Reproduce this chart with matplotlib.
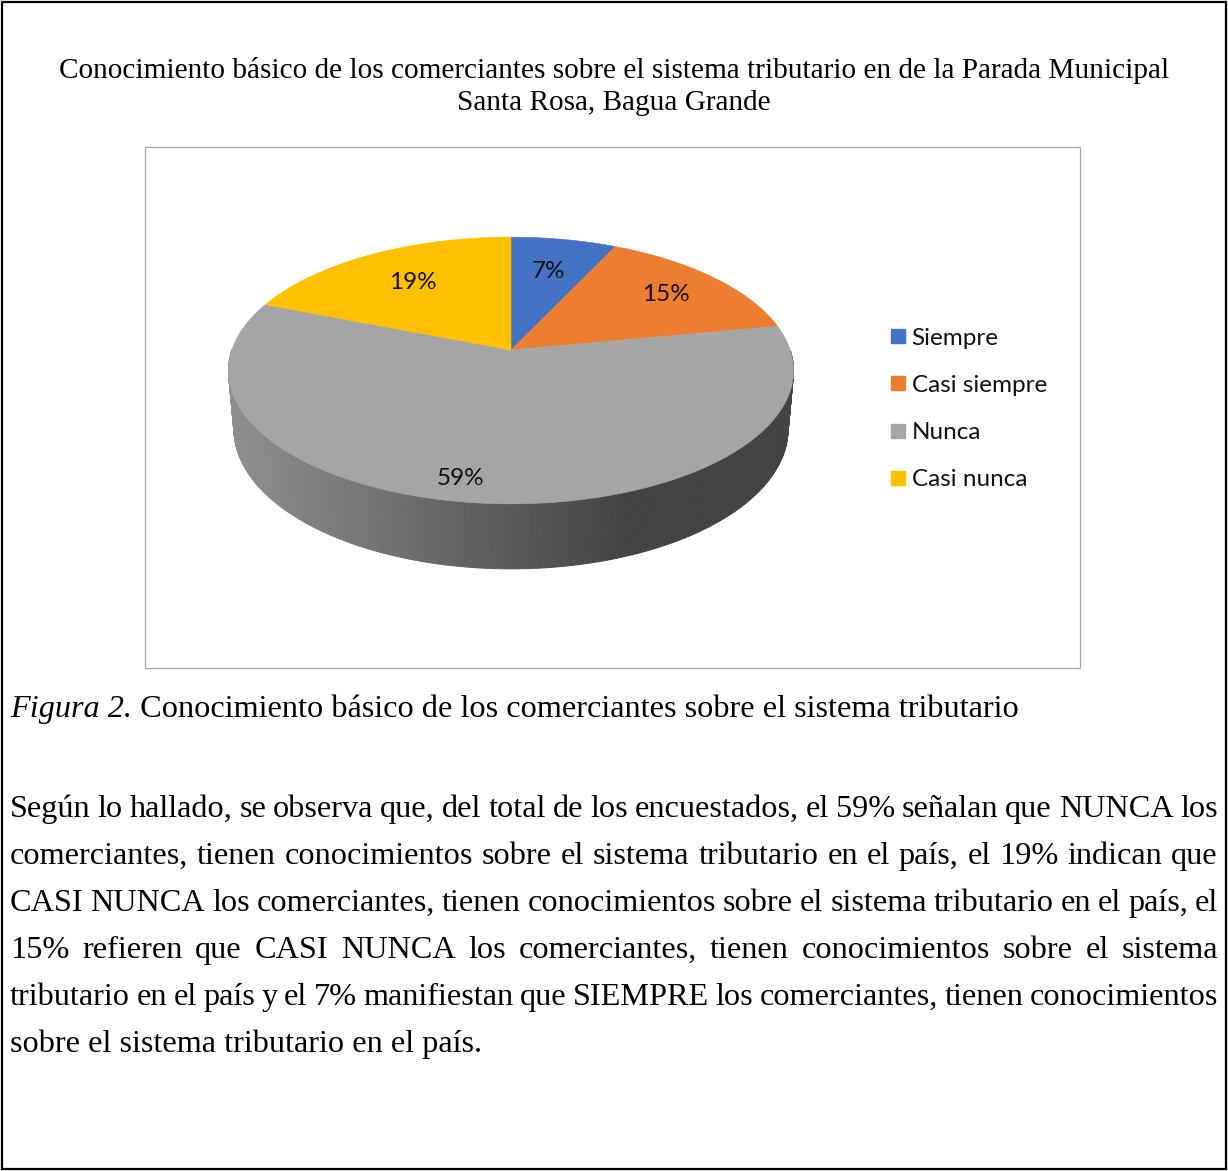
import numpy as np
import matplotlib
matplotlib.use("Agg")
import matplotlib.pyplot as plt
from matplotlib.patches import Polygon, Rectangle
from matplotlib.lines import Line2D

# ---------------- data ----------------
categories = ["Siempre", "Casi siempre", "Nunca", "Casi nunca"]
percentages = [7, 15, 59, 19]
slice_colors = ["#4472C4", "#ED7D31", "#A5A5A5", "#FFC000"]

title_lines = [
    "Conocimiento básico de los comerciantes sobre el sistema tributario en de la Parada Municipal",
    "Santa Rosa, Bagua Grande",
]
caption_italic = "Figura 2."
caption_rest = " Conocimiento básico de los comerciantes sobre el sistema tributario"
paragraph_lines = [
    "Según lo hallado, se observa que, del total de los encuestados, el 59% señalan que NUNCA los",
    "comerciantes, tienen conocimientos sobre el sistema tributario en el país, el 19% indican que",
    "CASI NUNCA los comerciantes, tienen conocimientos sobre el sistema tributario en el país, el",
    "15% refieren que CASI NUNCA los comerciantes, tienen conocimientos sobre el sistema",
    "tributario en el país y el 7% manifiestan que SIEMPRE los comerciantes, tienen conocimientos",
    "sobre el sistema tributario en el país.",
]

# ---------------- figure ----------------
W, H = 1228, 1171
fig = plt.figure(figsize=(W / 100, H / 100), dpi=100)
ax = fig.add_axes([0, 0, 1, 1])
ax.set_xlim(0, W)
ax.set_ylim(H, 0)
ax.axis("off")

SERIF = "Liberation Serif"
SANS = "Lato"
FS_TITLE = 21.1
FS_DOC = 23.2
FS_CHART = 17.5

# borders
ax.add_patch(Rectangle((2, 2), W - 4.5, H - 4.5, fill=False, ec="black", lw=1.6, zorder=10))
ax.add_patch(Rectangle((145, 147), 935, 521, fill=False, ec="#a6a6a6", lw=0.9, zorder=10))

# title
for i, line in enumerate(title_lines):
    ax.text(614, 78 + 32 * i, line, ha="center", va="baseline", family=SERIF, fontsize=FS_TITLE)

# ---------------- 3D pie (perspective projection) ----------------
PHI = np.deg2rad(27.8)
DIST = 5.755
SCALE = 1606.6
CX, CY = 511, 350
DEPTH = 0.24


def project(x, y, z):
    c, n = np.cos(PHI), np.sin(PHI)
    d = DIST + y * c - z * n
    return CX + SCALE * x / d, CY - SCALE * (y * n + z * c) / d


# side wall (front half), horizontal light gradient
th = np.deg2rad(np.linspace(180, 360, 241))
for t0, t1 in zip(th[:-1], th[1:]):
    xa, ya = project(np.cos([t0, t1]), np.sin([t0, t1]), 0.0)
    xb, yb = project(np.cos([t0, t1]), np.sin([t0, t1]), -DEPTH)
    xm = 0.5 * (xa.mean() + xb.mean())
    g = np.interp(xm, [228, 630], [0x90, 0x43]) / 255
    poly = Polygon([(xa[0], ya[0]), (xa[1], ya[1]), (xb[1], yb[1]), (xb[0], yb[0])],
                   closed=True, fc=(g, g, g), ec=(g, g, g), lw=0.7, zorder=2)
    ax.add_patch(poly)

# top face wedges
fr = np.array(percentages, dtype=float) / sum(percentages)
bounds = 90 - 360 * np.concatenate([[0], np.cumsum(fr)])
for k in range(len(percentages)):
    a = np.deg2rad(np.linspace(bounds[k], bounds[k + 1], 200))
    px, py = project(np.cos(a), np.sin(a), 0.0)
    pts = [(CX, CY)] + list(zip(px, py))
    ax.add_patch(Polygon(pts, closed=True, fc=slice_colors[k], ec=slice_colors[k], lw=0.4, zorder=3))

# data labels
label_radius = [0.68, 0.75, 0.87, 0.68]
label_angle_shift = [0, 0, -5, 0]
for k in range(len(percentages)):
    mid = np.deg2rad(0.5 * (bounds[k] + bounds[k + 1]) + label_angle_shift[k])
    lx, ly = project(label_radius[k] * np.cos(mid), label_radius[k] * np.sin(mid), 0.0)
    ax.text(lx, ly, f"{percentages[k]}%", ha="center", va="center", family=SANS,
            fontsize=FS_CHART, color="#111111", zorder=5)

# legend
handles = [Line2D([], [], ls="none", marker="s", markersize=10, mfc=c, mec=c) for c in slice_colors]
leg = ax.legend(handles, categories, loc="center left",
                bbox_to_anchor=(890 / W, 1 - 409 / H), bbox_transform=fig.transFigure,
                frameon=False, prop={"family": SANS, "size": FS_CHART},
                handlelength=0.62, handletextpad=0.27, labelspacing=1.08,
                borderpad=0, borderaxespad=0)
for t in leg.get_texts():
    t.set_color("#111111")

# ---------------- caption & paragraph ----------------
renderer = fig.canvas.get_renderer()


def width_of(artist):
    return artist.get_window_extent(renderer).width


cap_y = 717
t_it = ax.text(10, cap_y, caption_italic, ha="left", va="baseline", family=SERIF,
               fontsize=FS_DOC, style="italic")
w_it = width_of(t_it)
ax.text(10 + w_it, cap_y, caption_rest, ha="left", va="baseline", family=SERIF, fontsize=FS_DOC)

X0, X1 = 10, 1218
base0, step = 817, 47
for i, line in enumerate(paragraph_lines):
    y = base0 + step * i
    if i == len(paragraph_lines) - 1:
        ax.text(X0, y, line, ha="left", va="baseline", family=SERIF, fontsize=FS_DOC)
        continue
    words = line.split()
    arts = [ax.text(0, y, w, ha="left", va="baseline", family=SERIF, fontsize=FS_DOC) for w in words]
    ws = [width_of(a) for a in arts]
    gap = (X1 - X0 - sum(ws)) / (len(words) - 1)
    x = X0
    for a, w in zip(arts, ws):
        a.set_x(x)
        x += w + gap

fig.savefig("out.png", dpi=100, facecolor="white")
